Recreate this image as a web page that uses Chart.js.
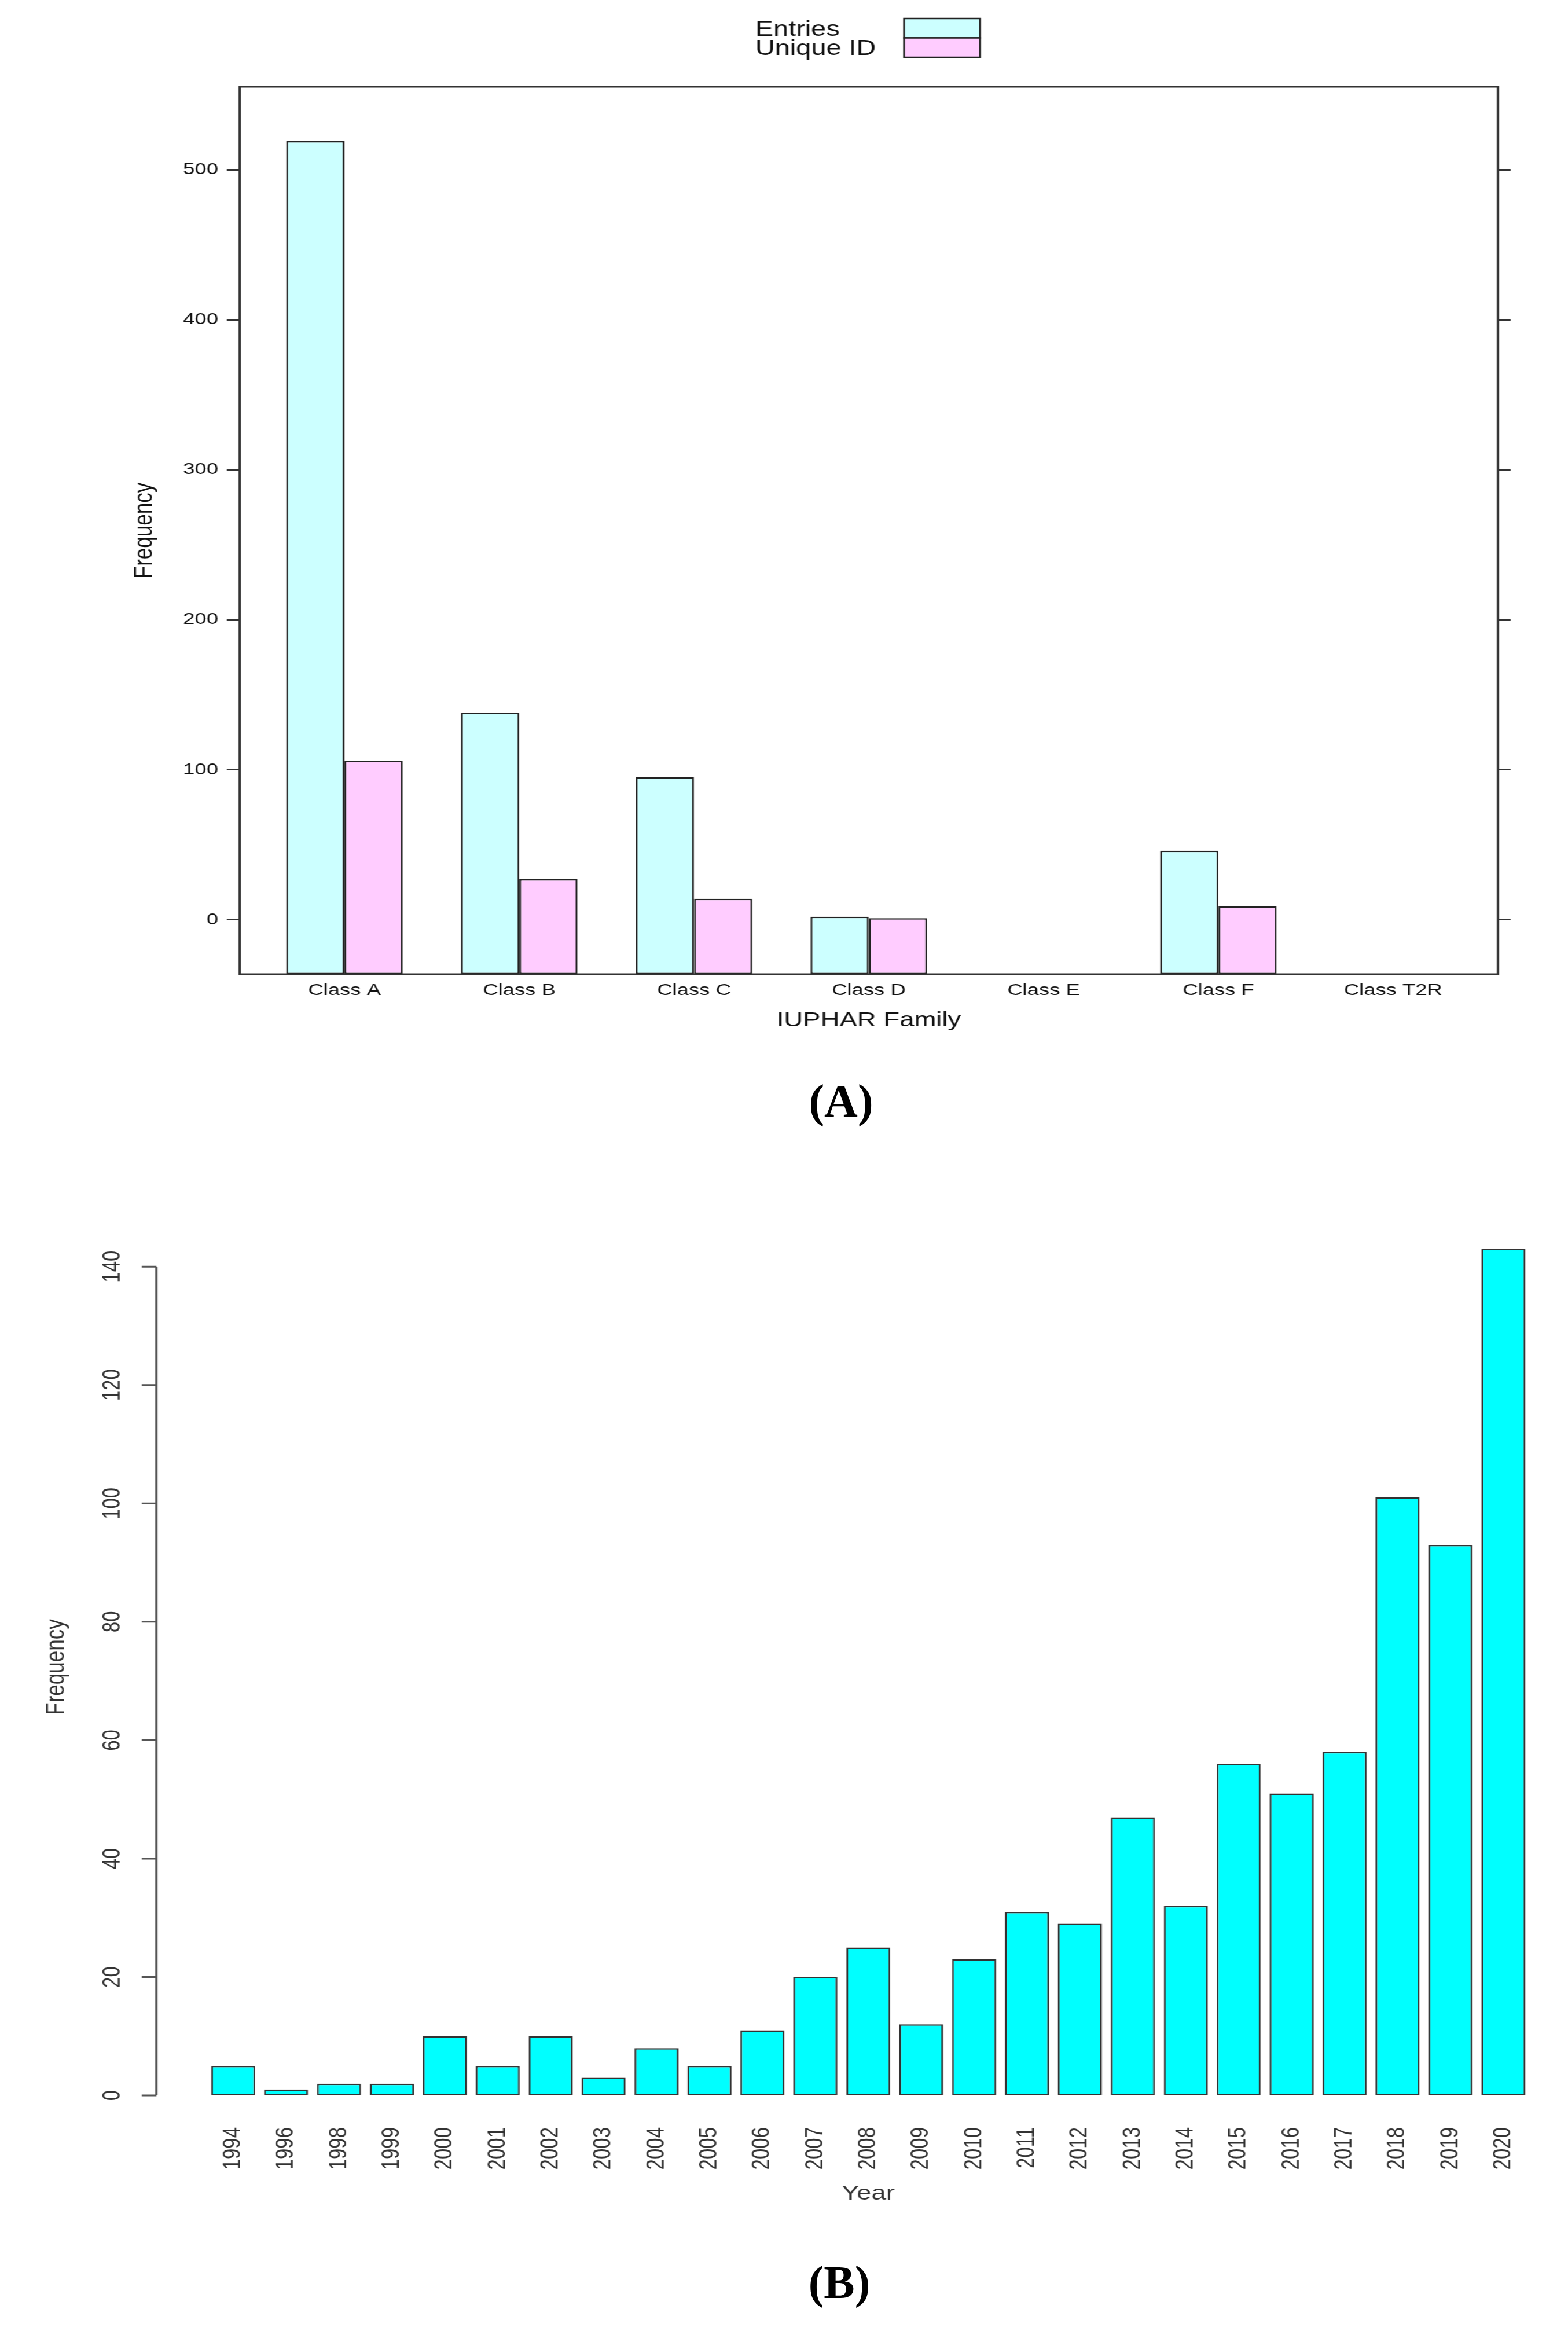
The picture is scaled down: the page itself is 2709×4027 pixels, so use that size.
<!DOCTYPE html>
<html>
<head>
<meta charset="utf-8">
<script src="https://cdn.jsdelivr.net/npm/chart.js@4.4.1/dist/chart.umd.min.js"></script>
<style>
  html, body { margin: 0; padding: 0; background: #fff; overflow: hidden; }
  body { width: 2709px; height: 4027px; position: relative; }
  /* the source figure is stretched sideways, so the charts are drawn narrower and scaled */
  .panel { position: absolute; left: 0; transform: scaleX(1.3); transform-origin: 0 0; }
  .tag { position: absolute; transform: translate(-50%, -50%); font: bold 80px "Liberation Serif", "Times New Roman", serif; color: #000; }
</style>
</head>
<body>
<div class="panel" style="top:0"><canvas id="chartA" width="2084" height="1850"></canvas></div>
<div class="panel" style="top:2000px"><canvas id="chartB" width="2084" height="2027"></canvas></div>
<div class="tag" style="left:1453px; top:1902px">(A)</div>
<div class="tag" style="left:1450px; top:3943px">(B)</div>

<script>
// panel A data
const classes = ['Class A', 'Class B', 'Class C', 'Class D', 'Class E', 'Class F', 'Class T2R'];
const entries = [519, 138, 95, 2, null, 46, null];
const uniqueIds = [106, 27, 14, 1, null, 9, null];
const yTicksA = [0, 100, 200, 300, 400, 500];

// panel B data
const years = ['1994', '1996', '1998', '1999', '2000', '2001', '2002', '2003', '2004', '2005', '2006', '2007', '2008',
  '2009', '2010', '2011', '2012', '2013', '2014', '2015', '2016', '2017', '2018', '2019', '2020'];
const counts = [5, 1, 2, 2, 10, 5, 10, 3, 8, 5, 11, 20, 25, 12, 23, 31, 29, 47, 32, 56, 51, 58, 101, 93, 143];
const yTicksB = [0, 20, 40, 60, 80, 100, 120, 140];

const S = 1.3;              // horizontal stretch of the panels
const W = 2084;             // internal canvas width (2709 / S)
const px = v => v / S;      // page x -> canvas x
const FONT = '"Liberation Sans", Arial, Helvetica, sans-serif';

Chart.defaults.font.family = FONT;
Chart.defaults.color = '#111';

// lattice style box + key
const latticeBox = {
  id: 'latticeBox',
  afterDraw(chart) {
    const { ctx, chartArea: a } = chart;
    ctx.save();
    ctx.strokeStyle = '#333';
    ctx.lineWidth = 3;
    ctx.strokeRect(a.left, a.top, a.right - a.left, a.bottom - a.top);

    const rowH = 33.5, top = 32, bx = px(1562), bw = px(1693) - px(1562);
    ctx.font = '36px ' + FONT;
    ctx.textBaseline = 'alphabetic';
    ctx.textAlign = 'left';
    chart.data.datasets.forEach((ds, i) => {
      const y = top + i * rowH;
      ctx.fillStyle = ds.backgroundColor;
      ctx.fillRect(bx, y, bw, rowH);
      ctx.lineWidth = 2.5;
      ctx.strokeStyle = '#222';
      ctx.strokeRect(bx, y, bw, rowH);
      ctx.fillStyle = '#111';
      ctx.fillText(ds.label, px(1305), y + rowH / 2 + 13);
    });
    ctx.restore();
  }
};

new Chart(document.getElementById('chartA'), {
  type: 'bar',
  data: {
    datasets: [
      {
        label: 'Entries',
        data: classes.map((c, i) => ({ x: i + 1, y: entries[i] })),
        backgroundColor: '#CCFFFF',
        borderColor: '#222',
        borderWidth: 2.5,
        borderSkipped: false,
        base: -36.3, // lattice bars start at the panel edge
      },
      {
        label: 'Unique ID',
        data: classes.map((c, i) => ({ x: i + 1, y: uniqueIds[i] })),
        backgroundColor: '#FFCCFF',
        borderColor: '#222',
        borderWidth: 2.5,
        borderSkipped: false,
        base: -36.3,
      },
    ],
  },
  options: {
    responsive: false,
    animation: false,
    layout: { padding: { top: 150, left: 0, right: 0, bottom: 0 } },
    categoryPercentage: 2 / 3,
    barPercentage: 1,
    plugins: { legend: { display: false }, tooltip: { enabled: false } },
    scales: {
      x: {
        type: 'linear',
        min: 0.4,
        max: 7.6,
        offset: false,
        afterBuildTicks: s => { s.ticks = classes.map((c, i) => ({ value: i + 1 })); },
        afterFit: s => { s.height = 167; },
        grid: { display: false, offset: false },
        border: { display: false },
        ticks: {
          autoSkip: false,
          maxRotation: 0,
          padding: 3,
          font: { size: 28 },
          callback: v => classes[v - 1],
        },
        title: { display: true, text: 'IUPHAR Family', font: { size: 35 }, padding: { top: 0, bottom: 66 } },
      },
      y: {
        min: -36.3,
        max: 555.3,
        afterBuildTicks: s => { s.ticks = yTicksA.map(v => ({ value: v })); },
        afterFit: s => { s.width = px(414); },
        grid: { drawOnChartArea: false, tickLength: px(22), tickWidth: 3, tickColor: '#333' },
        border: { display: false },
        ticks: { padding: px(15), font: { size: 28 } },
        title: { display: true, text: 'Frequency', font: { size: 35 }, padding: { top: px(250) - 21, bottom: 0 } },
      },
      y2: {
        position: 'right',
        min: -36.3,
        max: 555.3,
        afterBuildTicks: s => { s.ticks = yTicksA.map(v => ({ value: v })); },
        afterFit: s => { s.width = W - px(2588); },
        grid: { drawOnChartArea: false, tickLength: px(22), tickWidth: 3, tickColor: '#333' },
        border: { display: false },
        ticks: { display: false },
      },
    },
  },
  plugins: [latticeBox],
});

// base R style y axis: line only between first and last tick, rotated labels
const baseAxis = {
  id: 'baseAxis',
  afterDraw(chart) {
    const { ctx, chartArea: a, scales: { y } } = chart;
    const step = (a.right - a.left) / years.length;
    const ax = a.left - 0.95 * step;
    ctx.save();
    ctx.strokeStyle = '#555';
    ctx.lineWidth = 3;
    ctx.beginPath();
    ctx.moveTo(ax, y.getPixelForValue(yTicksB[0]));
    ctx.lineTo(ax, y.getPixelForValue(yTicksB[yTicksB.length - 1]));
    yTicksB.forEach(v => {
      const p = y.getPixelForValue(v);
      ctx.moveTo(ax, p);
      ctx.lineTo(ax - px(25), p);
    });
    ctx.stroke();
    ctx.fillStyle = '#333';
    ctx.font = '33px ' + FONT;
    ctx.textAlign = 'center';
    ctx.textBaseline = 'middle';
    yTicksB.forEach(v => {
      ctx.save();
      ctx.translate(ax - px(75), y.getPixelForValue(v));
      ctx.rotate(-Math.PI / 2);
      ctx.fillText(String(v), 0, 0);
      ctx.restore();
    });
    ctx.restore();
  }
};

new Chart(document.getElementById('chartB'), {
  type: 'bar',
  data: {
    labels: years,
    datasets: [{
      label: 'Frequency',
      data: counts,
      backgroundColor: '#00FFFF',
      borderColor: '#333',
      borderWidth: 2.5,
      borderSkipped: false,
      barPercentage: 1 / 1.2,
      categoryPercentage: 1,
    }],
  },
  options: {
    responsive: false,
    animation: false,
    layout: { padding: { top: 99, left: 0, right: W - px(2643), bottom: 0 } },
    plugins: { legend: { display: false }, tooltip: { enabled: false } },
    scales: {
      x: {
        afterFit: s => { s.height = 366; },
        grid: { display: false },
        border: { display: false },
        ticks: {
          autoSkip: false,
          minRotation: 90,
          maxRotation: 90,
          padding: 6,
          color: '#333',
          font: { size: 33 },
        },
        title: { display: true, text: 'Year', color: '#333', font: { size: 35 }, padding: { top: 0, bottom: 216 } },
      },
      y: {
        min: -4,
        max: 148.72,
        afterFit: s => { s.width = px(357); },
        grid: { display: false },
        border: { display: false },
        ticks: { display: false },
        title: { display: true, text: 'Frequency', color: '#333', font: { size: 35 }, padding: { top: px(98) - 21, bottom: 0 } },
      },
    },
  },
  plugins: [baseAxis],
});
</script>
</body>
</html>
